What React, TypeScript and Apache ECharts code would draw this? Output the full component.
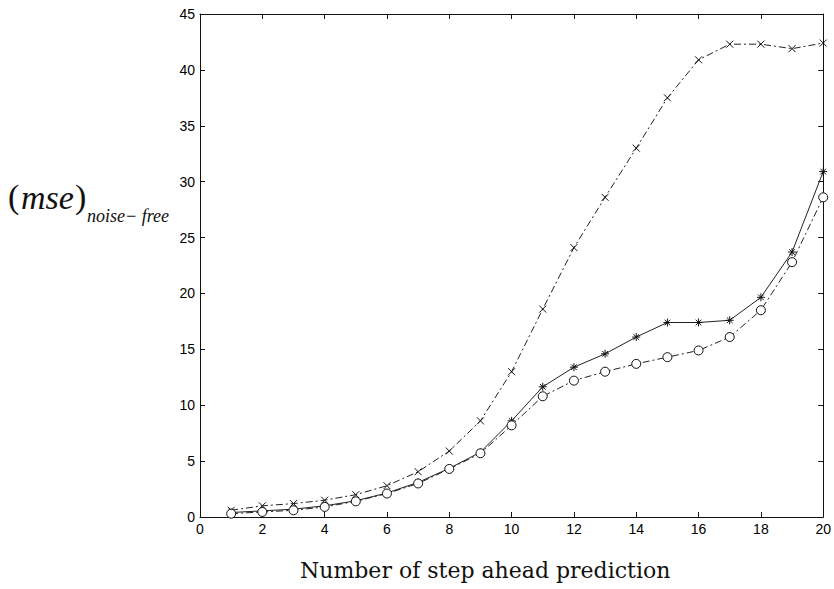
import React, { useEffect, useRef } from "react";
import * as echarts from "echarts";

const steps = [1, 2, 3, 4, 5, 6, 7, 8, 9, 10, 11, 12, 13, 14, 15, 16, 17, 18, 19, 20];
const crossValues = [0.6, 1.0, 1.2, 1.5, 2.0, 2.8, 4.05, 5.9, 8.6, 13.0, 18.6, 24.1, 28.6, 33.0, 37.5, 40.9, 42.3, 42.3, 41.9, 42.4];
const starValues = [0.4, 0.55, 0.7, 1.0, 1.45, 2.15, 3.1, 4.35, 5.8, 8.6, 11.65, 13.4, 14.6, 16.1, 17.4, 17.4, 17.6, 19.65, 23.7, 30.9];
const circleValues = [0.3, 0.45, 0.6, 0.9, 1.4, 2.1, 3.0, 4.3, 5.7, 8.2, 10.8, 12.2, 13.0, 13.7, 14.3, 14.9, 16.1, 18.5, 22.8, 28.6];
const xTicks = [0, 2, 4, 6, 8, 10, 12, 14, 16, 18, 20];
const yTicks = [0, 5, 10, 15, 20, 25, 30, 35, 40, 45];

const CROSS = "path://M0,0L10,10M10,0L0,10";
const STAR = "path://M5,0L5,10M0,5L10,5M1.5,1.5L8.5,8.5M8.5,1.5L1.5,8.5";
const RING = "path://M10,5A5,5,0,1,1,0,5A5,5,0,1,1,10,5Z";

function pairs(vals: number[]) {
  return steps.map((s, i) => [s, vals[i]]);
}

export default function App() {
  const ref = useRef<HTMLDivElement>(null);
  useEffect(() => {
    if (!ref.current) return;
    const chart = echarts.init(ref.current, null, { renderer: "svg" });
    const axisCommon = {
      axisLine: { show: true, onZero: false, lineStyle: { color: "#111", width: 1 } },
      axisTick: { show: true, inside: true, length: 5, lineStyle: { color: "#111" } },
      splitLine: { show: false },
    };
    const labelStyle = { fontFamily: "Liberation Sans", fontSize: 14, color: "#000" };
    chart.setOption({
      animation: false,
      backgroundColor: "#fff",
      grid: { left: 200, right: 4, top: 14, bottom: 72, containLabel: false },
      xAxis: [
        {
          type: "value", min: xTicks[0], max: xTicks[xTicks.length - 1], interval: 2,
          position: "bottom", ...axisCommon,
          axisLabel: { ...labelStyle, margin: 5 },
        },
        {
          type: "value", min: xTicks[0], max: xTicks[xTicks.length - 1], interval: 2,
          position: "top", ...axisCommon, axisLabel: { show: false },
        },
      ],
      yAxis: [
        {
          type: "value", min: yTicks[0], max: yTicks[yTicks.length - 1], interval: 5,
          position: "left", ...axisCommon,
          axisLabel: { ...labelStyle, margin: 5 },
        },
        {
          type: "value", min: yTicks[0], max: yTicks[yTicks.length - 1], interval: 5,
          position: "right", ...axisCommon, axisLabel: { show: false },
        },
      ],
      series: [
        {
          type: "line", data: pairs(crossValues), symbol: CROSS, symbolSize: 7,
          lineStyle: { color: "#222", width: 1, type: [7, 3, 2, 3] },
          itemStyle: { color: "none", borderColor: "#111", borderWidth: 1 },
        },
        {
          type: "line", data: pairs(starValues), symbol: STAR, symbolSize: 8,
          lineStyle: { color: "#222", width: 1, type: "solid" },
          itemStyle: { color: "none", borderColor: "#111", borderWidth: 1 },
        },
        {
          type: "line", data: pairs(circleValues), symbol: RING, symbolSize: 9,
          lineStyle: { color: "#222", width: 1, type: [7, 3, 2, 3] },
          itemStyle: { color: "#fff", borderColor: "#111", borderWidth: 1 },
        },
      ],
      graphic: [
        {
          type: "text", left: 8, top: 179,
          style: { text: "(", font: "34px 'Liberation Serif'", fill: "#111" },
        },
        {
          type: "text", left: 21, top: 180,
          style: { text: "mse", font: "italic 34px 'Liberation Serif'", fill: "#111" },
        },
        {
          type: "text", left: 75, top: 179,
          style: { text: ")", font: "34px 'Liberation Serif'", fill: "#111" },
        },
        {
          type: "text", left: 87, top: 207,
          style: { text: "noise\u2212 free", font: "italic 18px 'Liberation Serif'", fill: "#111" },
        },
        {
          type: "text", left: 300, top: 559,
          style: { text: "Number of step ahead prediction", font: "22px 'DejaVu Serif'", fill: "#111" },
        },
      ],
    });
    return () => chart.dispose();
  }, []);
  return (
    <div
      ref={ref}
      style={{ position: "fixed", left: 0, top: 0, width: 834, height: 589, background: "#fff" }}
    />
  );
}
